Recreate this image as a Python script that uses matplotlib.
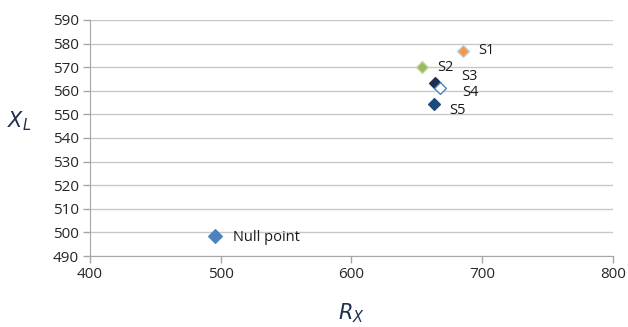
import matplotlib.pyplot as plt

# impedance points (R_X, X_L)
names = ['Null point', 'S1', 'S2', 'S3', 'S4', 'S5']
rx = [496, 685, 654, 664, 668, 663]
xl = [498.5, 577, 570, 563.5, 561, 554.5]
face = ['#4F81BD', '#F79646', '#9BBB59', '#1F2F4F', '#FFFFFF', '#1F497D']
edge = ['#4F81BD', '#B9CDE5', '#C3D69B', '#1F2F4F', '#4F81BD', '#1F497D']
# label offsets in points
offs = [(13, -1), (11, 0), (11, 0), (19, 4.5), (16, -3), (11, -5)]

plt.rcParams['font.family'] = ['Open Sans', 'DejaVu Sans']

fig = plt.figure(figsize=(6.28, 3.27), dpi=100)
ax = fig.add_axes([0.143, 0.217, 0.833, 0.722])

for i in range(len(names)):
    sz = 48 if i == 0 else 36
    ax.scatter(rx[i], xl[i], marker='D', s=sz, c=face[i], edgecolors=edge[i],
               linewidths=1, zorder=3)
    ax.annotate(names[i], (rx[i], xl[i]), xytext=offs[i], textcoords='offset points',
                fontsize=10.5, va='center', ha='left', color='#1A1A1A')

ax.set_xlim(400, 800)
ax.set_ylim(490, 590)
ax.set_xticks(range(400, 801, 100))
ax.set_yticks(range(490, 591, 10))
ax.yaxis.grid(True, color='#C8C8C8', linewidth=1)
ax.set_axisbelow(True)
for s in ['top', 'right']:
    ax.spines[s].set_visible(False)
for s in ['left', 'bottom']:
    ax.spines[s].set_color('#A6A6A6')
ax.tick_params(axis='both', colors='#A6A6A6', labelcolor='#262626',
               labelsize=11, length=5, width=1)
ax.tick_params(axis='y', pad=3)
ax.tick_params(axis='x', pad=3)

ax.set_xlabel('$R_X$', fontsize=15, color='#1F3050', labelpad=14)
ax.set_ylabel('$X_L$', fontsize=15, color='#1F3050', rotation=0)
ax.yaxis.set_label_coords(-0.135, 0.52)

fig.savefig('out.png', dpi=100)
